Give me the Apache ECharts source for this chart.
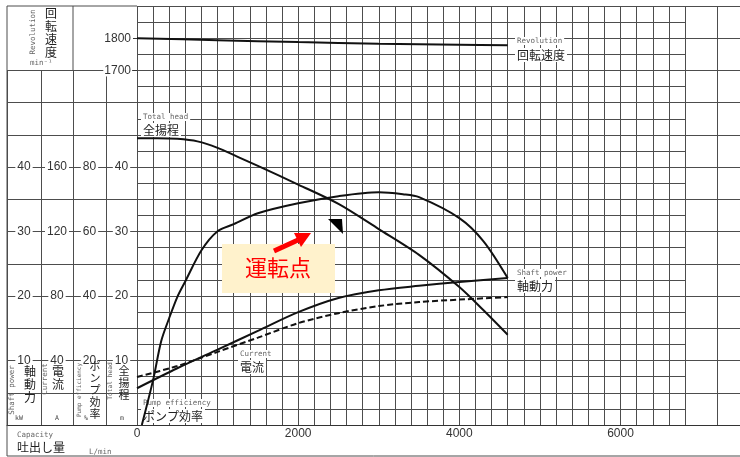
<!DOCTYPE html>
<html>
<head>
<meta charset="utf-8">
<title>ポンプ性能曲線</title>
<script src="https://cdn.jsdelivr.net/npm/echarts@6/dist/echarts.min.js"></script>
<style>
  html, body { margin: 0; padding: 0; background: #fff; }
  #chart { width: 740px; height: 457px; }
</style>
</head>
<body>
<div id="chart"></div>
<script>
// 吐出し量 L/min の目盛
var flowTicks = [0, 2000, 4000, 6000];

// 全揚程 m
var headFlow = [0, 250, 500, 750, 1000, 1250, 1500, 2000, 2500, 3000, 3500, 4000, 4300, 4600];
var headData = [44.5, 44.5, 44.4, 44.0, 43.0, 41.6, 40.2, 37.3, 34.3, 30.4, 26.4, 21.4, 17.8, 14.0];

// ポンプ効率 %
var effFlow = [60, 200, 300, 400, 500, 600, 800, 1000, 1200, 1500, 2000, 2500, 3000, 3300, 3500, 4000, 4300, 4600];
var effData = [0, 14, 26, 33.2, 39.7, 44.6, 54.2, 60.1, 62.3, 65.7, 68.8, 71.0, 72.2, 71.6, 70.7, 64.2, 57.0, 45.6];

// 軸動力 kW / 電流 A
var powerFlow = [0, 500, 1000, 1500, 2000, 2500, 3000, 3500, 4000, 4600];
var powerData = [5.7, 8.8, 11.7, 14.6, 17.5, 19.7, 20.9, 21.6, 22.2, 22.8];
var currentData = [29.8, 36.6, 45.4, 54.2, 63.2, 69.4, 73.8, 76.3, 77.8, 79.4];

// 回転速度 min-1
var revFlow = [0, 1000, 2000, 3000, 4000, 4600];
var revData = [1800, 1794, 1788, 1783, 1780, 1778];

// 左側の目盛ラベル
var powerTicks = [10, 20, 30, 40];
var currentTicks = [40, 80, 120, 160];
var effTicks = [20, 40, 60, 80];
var headTicks = [10, 20, 30, 40];
var revTicks = [1700, 1800];

function pairs(xs, ys) {
  return xs.map(function (x, i) { return [x, ys[i]]; });
}

(function () {
  var myChart = echarts.init(document.getElementById('chart'));

  var gridColor = '#4d4d4d';
  var jp = '"Noto Sans CJK JP", sans-serif';
  var mono = '"DejaVu Sans Mono", monospace';
  var plain = function (v) { return String(v); };  // 桁区切りなし

  // 左の目盛欄（軸動力・電流・効率・揚程）
  function colAxis(gridIndex, max, interval, ticks, margin) {
    return {
      gridIndex: gridIndex,
      type: 'value',
      position: 'left',
      min: 0,
      max: max,
      interval: interval,
      axisLine: { show: true, lineStyle: { color: gridColor } },
      axisTick: { show: false },
      splitLine: { show: true, lineStyle: { color: gridColor } },
      axisLabel: {
        inside: true,
        margin: margin,
        align: 'center',
        customValues: ticks,
        formatter: plain,
        color: '#333',
        fontSize: 12,
        fontFamily: 'Liberation Sans',
        backgroundColor: '#fff',
        padding: [0, 2]
      }
    };
  }

  function emptyX(gridIndex) {
    return {
      gridIndex: gridIndex,
      type: 'value',
      min: 0,
      max: 1,
      axisLine: { show: true, lineStyle: { color: '#333' } },
      axisTick: { show: false },
      axisLabel: { show: false },
      splitLine: { show: false }
    };
  }

  // 文字（横書き）
  function txt(x, y, text, font, extra) {
    var style = {
      text: text,
      font: font,
      fill: '#222',
      textAlign: 'left',
      textVerticalAlign: 'middle'
    };
    for (var k in extra) style[k] = extra[k];
    return { type: 'text', x: x, y: y, z: 1, style: style };
  }

  // 文字（90度回転）
  function rtxt(x, y, text, size) {
    return {
      type: 'text', x: x, y: y, z: 1, rotation: Math.PI / 2,
      style: {
        text: text, font: size + 'px ' + mono, fill: '#666',
        textAlign: 'center', textVerticalAlign: 'middle'
      }
    };
  }

  // 文字（縦書き）
  function vtxt(x, y, text, size) {
    return {
      type: 'text', x: x, y: y, z: 1,
      style: {
        text: text.split('').join('\n'), font: size + 'px ' + jp, fill: '#222',
        lineHeight: size + 1, textAlign: 'center', textVerticalAlign: 'middle'
      }
    };
  }

  function line(x1, y1, x2, y2) {
    return {
      type: 'line', z: 1,
      shape: { x1: x1, y1: y1, x2: x2, y2: y2 },
      style: { stroke: gridColor, lineWidth: 1 }
    };
  }

  var small = '7.5px ' + mono;
  var label = '12px ' + jp;
  var lblBg = { backgroundColor: '#fff', padding: [1, 2] };
  var smallBg = { backgroundColor: '#fff', padding: [0, 2], fill: '#666' };

  function mk(name, xs, ys, yAxisIndex, dashed) {
    return {
      name: name,
      type: 'line',
      yAxisIndex: yAxisIndex,
      data: pairs(xs, ys),
      showSymbol: false,
      smooth: 0.3,
      silent: true,
      z: 2,
      lineStyle: { color: '#111', width: 2, type: dashed ? [6, 3] : 'solid' }
    };
  }

  var option = {
    animation: false,
    grid: [
      { left: 137, top: 6, width: 548, height: 419 },
      { left: 685, top: 6, width: 55, height: 419 },
      { left: 7, top: 70.5, width: 34, height: 354.5 },
      { left: 41, top: 70.5, width: 32, height: 354.5 },
      { left: 73, top: 70.5, width: 33, height: 354.5 },
      { left: 106, top: 70.5, width: 31, height: 354.5 }
    ],
    xAxis: [
      {
        gridIndex: 0,
        type: 'value',
        min: 0,
        max: 6800,
        interval: 200,
        axisLine: { show: true, lineStyle: { color: '#333' } },
        axisTick: { show: false },
        axisLabel: {
          customValues: flowTicks, formatter: plain,
          color: '#333', fontSize: 12, fontFamily: 'Liberation Sans', margin: 3
        },
        splitLine: { show: true, lineStyle: { color: gridColor } }
      },
      {
        gridIndex: 1,
        type: 'value',
        min: 6800,
        max: 7480,
        interval: 400,
        axisLine: { show: true, lineStyle: { color: '#333' } },
        axisTick: { show: false },
        axisLabel: { show: false },
        splitLine: { show: true, lineStyle: { color: gridColor } }
      },
      emptyX(2), emptyX(3), emptyX(4), emptyX(5)
    ],
    yAxis: [
      // 0 全揚程
      {
        gridIndex: 0, type: 'value', min: 0, max: 65, interval: 2.5,
        axisLine: { show: false }, axisTick: { show: false }, axisLabel: { show: false },
        splitLine: { show: true, lineStyle: { color: gridColor } }
      },
      // 1 回転速度
      {
        gridIndex: 0, type: 'value', min: 600, max: 1900, interval: 100, position: 'left', z: 1,
        axisLine: { show: false },
        axisTick: { show: true, customValues: revTicks, length: 4, lineStyle: { color: '#333' } },
        axisLabel: {
          customValues: revTicks, formatter: plain, color: '#333', fontSize: 12,
          fontFamily: 'Liberation Sans', margin: 5, backgroundColor: '#fff', padding: [0, 1]
        },
        splitLine: { show: false }
      },
      // 2 ポンプ効率
      { gridIndex: 0, type: 'value', min: 0, max: 130, show: false },
      // 3 軸動力
      { gridIndex: 0, type: 'value', min: 0, max: 65, show: false },
      // 4 電流
      { gridIndex: 0, type: 'value', min: 0, max: 260, show: false },
      // 5 右側の余白
      {
        gridIndex: 1, type: 'value', min: 0, max: 65, interval: 5,
        axisLine: { show: false }, axisTick: { show: false }, axisLabel: { show: false },
        splitLine: { show: true, lineStyle: { color: gridColor } }
      },
      colAxis(2, 55, 5, powerTicks, 17),
      colAxis(3, 220, 20, currentTicks, 16),
      colAxis(4, 110, 10, effTicks, 16.5),
      colAxis(5, 55, 5, headTicks, 15.5)
    ],
    series: [
      mk('回転速度', revFlow, revData, 1),
      mk('全揚程', headFlow, headData, 0),
      mk('ポンプ効率', effFlow, effData, 2),
      mk('軸動力', powerFlow, powerData, 3),
      mk('電流', powerFlow, currentData, 4, true)
    ],
    graphic: [
      // 枠線
      line(7, 6, 137, 6),
      line(7, 6, 7, 456),
      line(73, 6, 73, 70.5),
      line(7, 456, 740, 456),

      // 左上：回転速度
      rtxt(33, 32, 'Revolution', 7.5),
      vtxt(51, 33, '回転速度', 12),
      txt(30, 63, 'min⁻¹', small, { fill: '#666' }),

      // 左の欄の見出し
      rtxt(12, 390, 'Shaft power', 7.5),
      vtxt(30, 384, '軸動力', 12),
      txt(15, 418, 'kW', '6.5px ' + mono, { fill: '#444' }),
      rtxt(45, 379, 'Current', 7.5),
      vtxt(58, 378, '電流', 12),
      txt(55, 418, 'A', '6.5px ' + mono, { fill: '#444' }),
      rtxt(79, 390, 'Pump efficiency', 6),
      vtxt(95, 390, 'ポンプ効率', 11),
      txt(84, 418, '%', '6.5px ' + mono, { fill: '#444' }),
      rtxt(110, 381, 'Total head', 6.2),
      vtxt(124, 383, '全揚程', 11),
      txt(120, 418, 'm', '6.5px ' + mono, { fill: '#444' }),

      // 下：吐出し量
      txt(17, 435, 'Capacity', small, { fill: '#666' }),
      txt(17, 447, '吐出し量', label),
      txt(89, 452, 'L/min', small, { fill: '#666' }),

      // 曲線の名前
      txt(515, 41, 'Revolution', small, smallBg),
      txt(515, 55, '回転速度', label, lblBg),
      txt(515, 273, 'Shaft power', small, smallBg),
      txt(515, 286, '軸動力', label, lblBg),
      txt(238, 354, 'Current', small, smallBg),
      txt(238, 367, '電流', label, lblBg),
      txt(141, 403, 'Pump efficiency', small, smallBg),
      txt(141, 416, 'ポンプ効率', label, lblBg),
      txt(141, 117, 'Total head', small, smallBg),
      txt(141, 130, '全揚程', label, lblBg),

      // 運転点
      {
        type: 'rect', z: 3,
        shape: { x: 222, y: 244, width: 113, height: 49 },
        style: { fill: '#fff2cc' }
      },
      {
        type: 'text', x: 278, y: 268, z: 4,
        style: {
          text: '運転点', font: '22px ' + jp, fill: '#ff0000',
          textAlign: 'center', textVerticalAlign: 'middle'
        }
      },
      {
        type: 'line', z: 4,
        shape: { x1: 274, y1: 251, x2: 298, y2: 240 },
        style: { stroke: '#ff0000', lineWidth: 5 }
      },
      {
        type: 'polygon', z: 4,
        shape: { points: [[311, 233], [294, 233], [301, 247]] },
        style: { fill: '#ff0000' }
      },
      {
        type: 'polygon', z: 4,
        shape: { points: [[328, 219], [342, 219], [343, 234]] },
        style: { fill: '#000' }
      }
    ]
  };

  myChart.setOption(option);

  window.addEventListener('resize', function () {
    myChart.resize();
  });
})();
</script>
</body>
</html>
